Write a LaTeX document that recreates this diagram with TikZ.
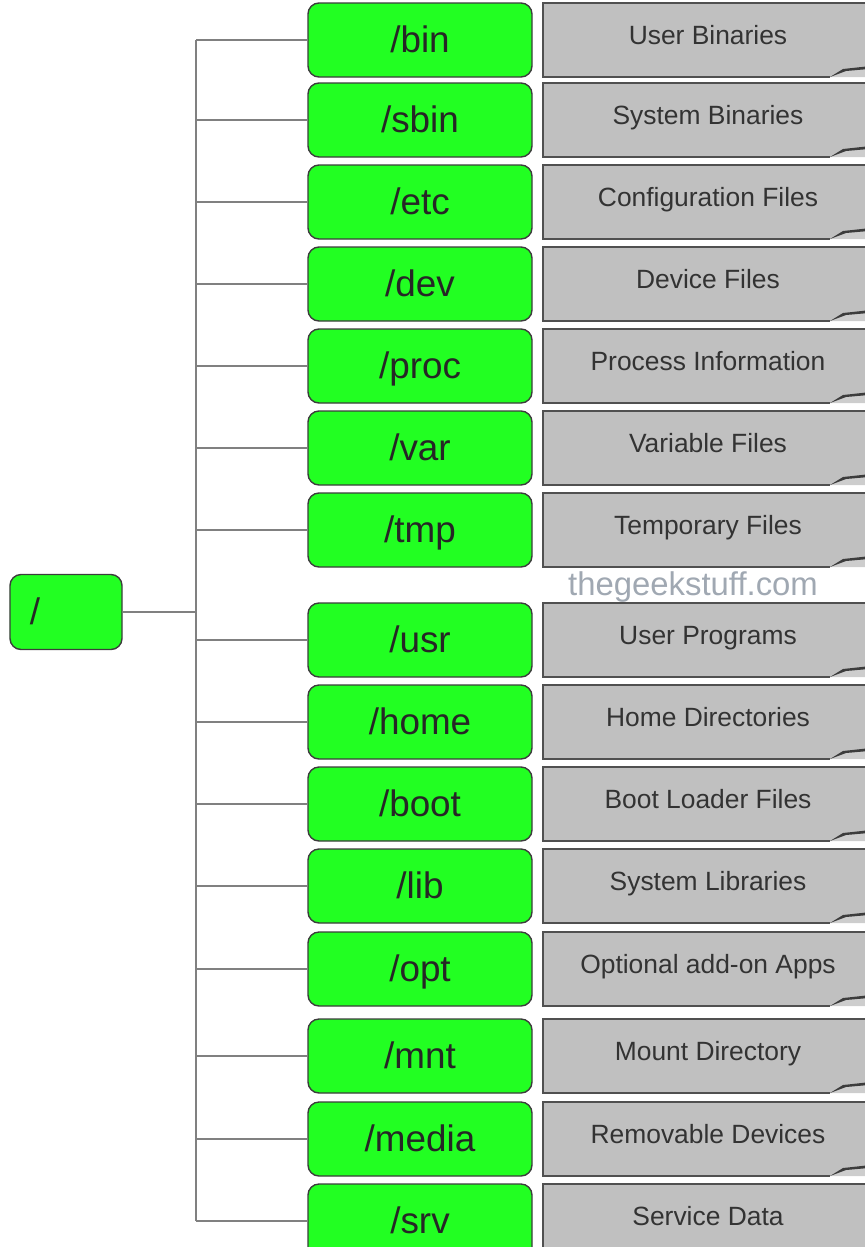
\documentclass[tikz,border=0pt]{standalone}
\usepackage{fontspec}
\setmainfont{Liberation Sans}
\usetikzlibrary{positioning}

\definecolor{dirgreen}{RGB}{34,255,34}
\definecolor{descgray}{RGB}{192,192,192}
\definecolor{edgegray}{RGB}{60,60,60}
\definecolor{linegray}{RGB}{128,128,128}
\definecolor{markgray}{RGB}{160,168,178}

\tikzset{
  dirbox/.style={draw=edgegray,line width=1.4bp,fill=dirgreen,rounded corners=11bp,
    minimum width=224bp,minimum height=74bp,inner sep=0pt},
  dirtext/.style={inner sep=0pt,anchor=base,text=black!85,font=\fontsize{37}{40}\selectfont},
  desctext/.style={inner sep=0pt,anchor=base,text=black!80,font=\fontsize{26.5}{30}\selectfont},
  branch/.style={draw=linegray,line width=2bp},
  descline/.style={draw=edgegray!90,line width=1.4bp}
}

\begin{document}
\begin{tikzpicture}[x=1bp,y=-1bp]
\useasboundingbox (0,0) rectangle (865,1247);

% root of the tree
\node[dirbox,minimum width=112bp,minimum height=75bp] (root) at (66,612) {};
\node[dirtext] (root-t) at (35,624) {/};
\coordinate (trunk) at (196,612);

\foreach \n/\y/\desc in {bin/40/User Binaries, sbin/120/System Binaries,
  etc/202/Configuration Files, dev/284/Device Files, proc/366/Process Information,
  var/448/Variable Files, tmp/530/Temporary Files, usr/640/User Programs,
  home/722/Home Directories, boot/804/Boot Loader Files, lib/886/System Libraries,
  opt/969/Optional add-on Apps, mnt/1056/Mount Directory,
  media/1139/Removable Devices, srv/1221/Service Data}{
	% description page with folded corner
	\fill[descgray] (543,\y-37) rectangle (880,\y+37);
	\fill[descgray!80] (830,\y+37) -- (846,\y+31) -- (880,\y+28) -- (880,\y+37) -- cycle;
	\fill[edgegray] (830,\y+37) -- (843,\y+29) -- (880,\y+25) -- (880,\y+28) -- (846,\y+31) -- cycle;
	\draw[descline] (880,\y-37) -- (543,\y-37) -- (543,\y+37) -- (830,\y+37);
	\node[desctext] (\n-d) at (708,\y+4) {\desc};
	% directory box
	\node[dirbox] (\n) at (420,\y) {};
	\node[dirtext] (\n-t) at (420,\y+12) {/\n};
	\draw[branch] (\n.west) -- (\n.west -| trunk);
}

\draw[branch] (bin.west -| trunk) -- (srv.west -| trunk);
\draw[branch] (root.east) -- (trunk);

\node[inner sep=0pt,anchor=base,text=markgray,font=\fontsize{33}{36}\selectfont] (mark) at (693,595) {thegeekstuff.com};

\end{tikzpicture}
\end{document}
